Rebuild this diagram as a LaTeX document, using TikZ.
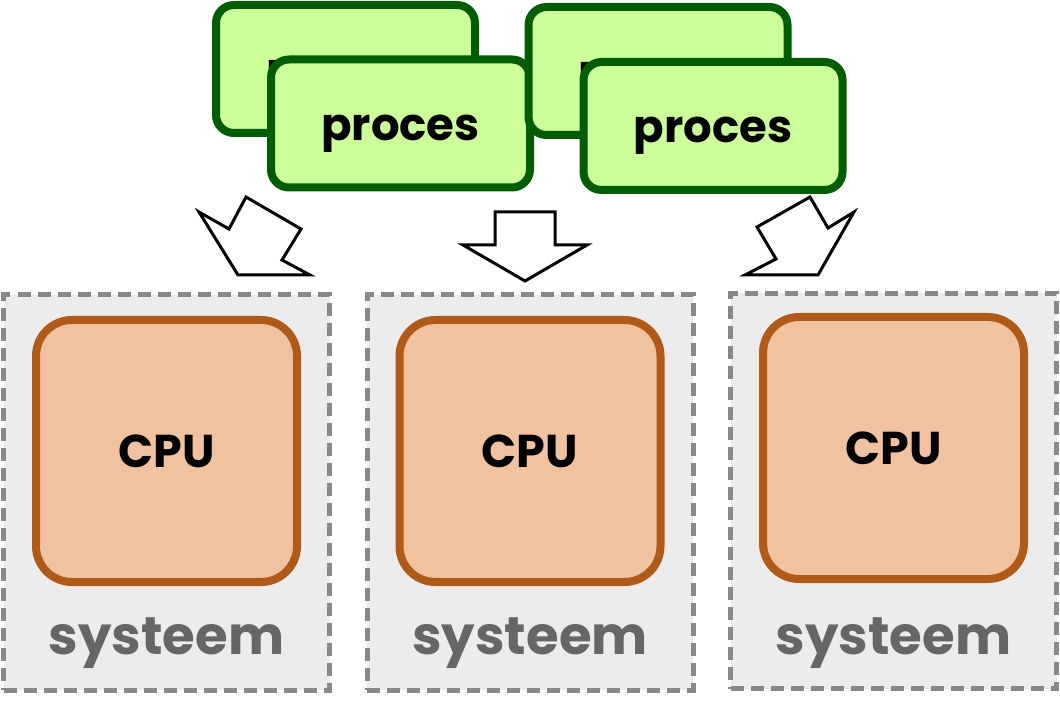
\documentclass[tikz,border=0pt]{standalone}
\usepackage{fontspec}
\setmainfont{Poppins}
\usetikzlibrary{positioning}
\definecolor{sysfill}{HTML}{ECECEC}
\definecolor{sysline}{HTML}{888888}
\definecolor{systext}{HTML}{666666}
\definecolor{cpufill}{HTML}{F0C2A0}
\definecolor{cpuline}{HTML}{B05A1A}
\definecolor{procfill}{HTML}{CCFF99}
\definecolor{procline}{HTML}{005C00}
\tikzset{
systeem/.style={rectangle, draw=sysline, fill=sysfill, line width=5pt, dash pattern=on 13pt off 7pt, minimum width=326pt, minimum height=395pt, inner sep=0pt},
cpu/.style={rectangle, rounded corners=36pt, draw=cpuline, fill=cpufill, line width=8pt, minimum width=261pt, minimum height=262pt, font=\fontsize{46}{46}\selectfont\bfseries},
proces/.style={rectangle, rounded corners=18pt, draw=procline, fill=procfill, line width=8pt, minimum width=259pt, minimum height=128pt, text height=34pt, text depth=0pt, font=\fontsize{45}{45}\selectfont\bfseries},
label1/.style={text=systext, font=\fontsize{53}{53}\selectfont\bfseries},
pijl/.style={draw=black, fill=white, line width=3pt, line join=miter}
}
\begin{document}
\begin{tikzpicture}[x=1pt,y=-1pt]
\useasboundingbox (0,0) rectangle (1060,708);

\node[systeem] (s1) at (166.5,492.5) {};
\node[systeem] (s2) at (530,492.5) {};
\node[systeem] (s3) at (893.5,491) {};

\node[cpu] (c1) at (166.5,451) {CPU};
\node[cpu] (c2) at (530,451) {CPU};
\node[cpu] (c3) at (893.5,448) {CPU};

\node[label1] (l1) at (166.5,643) {systeem};
\node[label1] (l2) at (530,643) {systeem};
\node[label1] (l3) at (893.5,643) {systeem};

\node[proces] (p1) at (345.5,69) {proces};
\node[proces] (p2) at (400.5,123.5) {proces};
\node[proces] (p3) at (658,71) {proces};
\node[proces] (p4) at (713,126) {proces};

% pijlen
\draw[pijl] (246,197) -- (301,229) -- (282,260) -- (310,275) -- (238,275) -- (199,212) -- (229,229) -- cycle;
\draw[pijl] (495,212) -- (555,212) -- (555,245) -- (587,245) -- (525,281) -- (463,245) -- (495,245) -- cycle;
\draw[pijl] (810,197) -- (828,228) -- (854,212) -- (818,275) -- (745,275) -- (776,259) -- (757,227) -- cycle;
\end{tikzpicture}
\end{document}
